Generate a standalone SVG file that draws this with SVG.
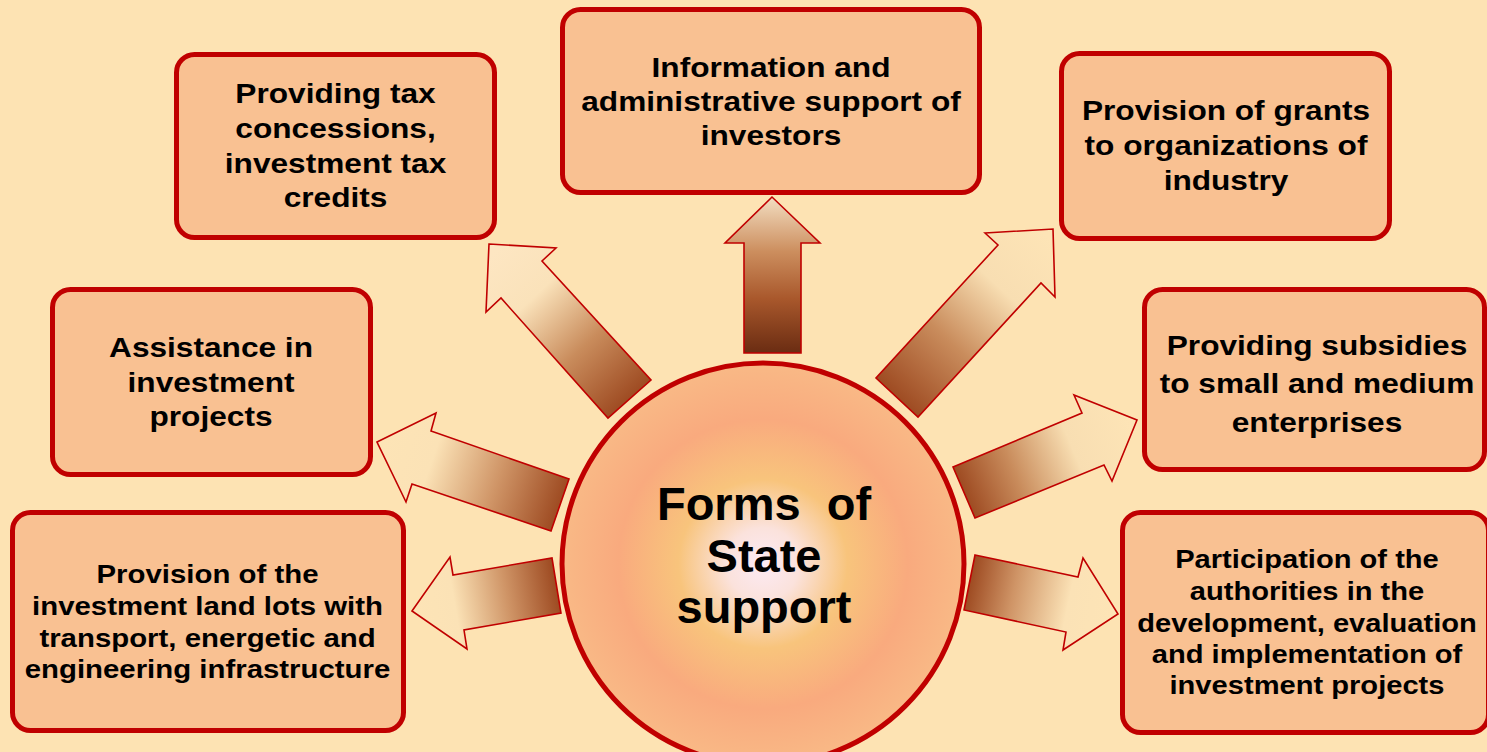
<svg xmlns="http://www.w3.org/2000/svg" width="1487" height="752" viewBox="0 0 1487 752">
<style>
.box{fill:#F9C192;stroke:#C00000;stroke-width:5}
.arr{stroke:#C00000;stroke-width:1.6;stroke-linejoin:miter}
.t{font-family:"Liberation Sans",Arial,sans-serif;font-weight:bold;font-size:28px;fill:#000;text-anchor:middle}
.ts{font-size:26px}
.ct{font-family:"Liberation Sans",Arial,sans-serif;font-weight:bold;font-size:47px;fill:#000;text-anchor:middle}
</style>
<defs>
<radialGradient id="cg" cx="763" cy="564" r="201" gradientUnits="userSpaceOnUse">
<stop offset="0" stop-color="#FCEAF4"/>
<stop offset="0.18" stop-color="#FBE2DC"/>
<stop offset="0.42" stop-color="#F8C47C"/>
<stop offset="0.72" stop-color="#F9AA7E"/>
<stop offset="1" stop-color="#F9B986"/>
</radialGradient>
<linearGradient id="gup" x1="0" y1="197" x2="0" y2="353" gradientUnits="userSpaceOnUse">
<stop offset="0" stop-color="#F3DEC2"/>
<stop offset="0.35" stop-color="#CC8E5E"/>
<stop offset="0.65" stop-color="#A9582C"/>
<stop offset="1" stop-color="#6A2C12"/>
</linearGradient>
<linearGradient id="gul" x1="630" y1="399" x2="493" y2="253" gradientUnits="userSpaceOnUse">
<stop offset="0" stop-color="#9E4B22"/>
<stop offset="0.35" stop-color="#C98C5C"/>
<stop offset="0.7" stop-color="#FAE2BA"/>
<stop offset="1" stop-color="#FDE6C2"/>
</linearGradient>
<linearGradient id="gur" x1="897" y1="398" x2="1048" y2="236" gradientUnits="userSpaceOnUse">
<stop offset="0" stop-color="#9E4B22"/>
<stop offset="0.35" stop-color="#C98C5C"/>
<stop offset="0.68" stop-color="#F8DEB2"/>
<stop offset="1" stop-color="#FDE4B6"/>
</linearGradient>
<linearGradient id="gr1" x1="964" y1="492" x2="1130" y2="423" gradientUnits="userSpaceOnUse">
<stop offset="0" stop-color="#9E4B22"/>
<stop offset="0.3" stop-color="#C98C5C"/>
<stop offset="0.65" stop-color="#F8DEB2"/>
<stop offset="1" stop-color="#FDE4B6"/>
</linearGradient>
<linearGradient id="gr2" x1="970" y1="582" x2="1115" y2="612" gradientUnits="userSpaceOnUse">
<stop offset="0" stop-color="#9E4B22"/>
<stop offset="0.3" stop-color="#CF9466"/>
<stop offset="0.68" stop-color="#FBE2B6"/>
<stop offset="1" stop-color="#FDE4B6"/>
</linearGradient>
<linearGradient id="gl1" x1="560" y1="505" x2="382" y2="444" gradientUnits="userSpaceOnUse">
<stop offset="0" stop-color="#9E4B22"/>
<stop offset="0.35" stop-color="#CF9466"/>
<stop offset="0.72" stop-color="#FBE2B6"/>
<stop offset="1" stop-color="#FDE4B6"/>
</linearGradient>
<linearGradient id="gl2" x1="556" y1="585" x2="415" y2="610" gradientUnits="userSpaceOnUse">
<stop offset="0" stop-color="#9E4B22"/>
<stop offset="0.35" stop-color="#CF9466"/>
<stop offset="0.72" stop-color="#FBE2B6"/>
<stop offset="1" stop-color="#FDE4B6"/>
</linearGradient>
</defs>
<rect x="0" y="0" width="1487" height="752" fill="#FDE3B3"/>

<g id="connectors">
<polygon class="arr" fill="url(#gup)" points="744,353 744,243 725,243 772,197 820,243 801,243 801,353"/>
<polygon class="arr" fill="url(#gul)" points="489,244 556,248 542,261 651,380 608,418 501,298 486,312"/>
<polygon class="arr" fill="url(#gur)" points="985,233 1053,229 1055,297 1041,283 918,417 876,378 998,245"/>
<polygon class="arr" fill="url(#gr1)" points="953,467 1082,413 1074,395 1137,420 1112,481 1104,465 975,518"/>
<polygon class="arr" fill="url(#gr2)" points="975,555 1078,577 1083,558 1118,614 1063,650 1066,632 964,610"/>
<polygon class="arr" fill="url(#gl1)" points="377,442 436,413 431,431 569,479 551,531 412,484 406,502"/>
<polygon class="arr" fill="url(#gl2)" points="412,611 450,557 453,575 552,558 561,613 464,630 467,649"/>
</g>

<g id="node-tax">
<rect class="box" x="176.5" y="54.5" width="318" height="183" rx="18"/>
<text class="t" transform="translate(335.5 0) scale(1.13 1)"><tspan x="0" y="103">Providing tax</tspan><tspan x="0" y="138">concessions,</tspan><tspan x="0" y="173">investment tax</tspan><tspan x="0" y="207">credits</tspan></text>
</g>
<g id="node-info">
<rect class="box" x="562.5" y="9.5" width="417" height="183" rx="18"/>
<text class="t" transform="translate(771 0) scale(1.13 1)"><tspan x="0" y="77">Information and</tspan><tspan x="0" y="111">administrative support of</tspan><tspan x="0" y="145">investors</tspan></text>
</g>
<g id="node-grants">
<rect class="box" x="1061.5" y="53.5" width="328" height="185" rx="18"/>
<text class="t" transform="translate(1226 0) scale(1.13 1)"><tspan x="0" y="120">Provision of grants</tspan><tspan x="0" y="155">to organizations of</tspan><tspan x="0" y="190">industry</tspan></text>
</g>
<g id="node-assist">
<rect class="box" x="52.5" y="289.5" width="318" height="185" rx="18"/>
<text class="t" transform="translate(211 0) scale(1.13 1)"><tspan x="0" y="357">Assistance in</tspan><tspan x="0" y="392">investment</tspan><tspan x="0" y="426">projects</tspan></text>
</g>
<g id="node-subsidies">
<rect class="box" x="1144.5" y="289.5" width="340" height="180" rx="18"/>
<text class="t" transform="translate(1317 0) scale(1.13 1)"><tspan x="0" y="355">Providing subsidies</tspan><tspan x="0" y="393">to small and medium</tspan><tspan x="0" y="432">enterprises</tspan></text>
</g>
<g id="node-land">
<rect class="box" x="12.5" y="512.5" width="391" height="218" rx="18"/>
<text class="t ts" transform="translate(207.5 0) scale(1.13 1)"><tspan x="0" y="583">Provision of the</tspan><tspan x="0" y="615">investment land lots with</tspan><tspan x="0" y="647">transport, energetic and</tspan><tspan x="0" y="678">engineering infrastructure</tspan></text>
</g>
<g id="node-participation">
<rect class="box" x="1122.5" y="512.5" width="366" height="220" rx="18"/>
<text class="t ts" transform="translate(1307 0) scale(1.12 1)"><tspan x="0" y="568">Participation of the</tspan><tspan x="0" y="600">authorities in the</tspan><tspan x="0" y="632">development, evaluation</tspan><tspan x="0" y="663">and implementation of</tspan><tspan x="0" y="694">investment projects</tspan></text>
</g>

<g id="node-center">
<circle cx="763" cy="564" r="201" fill="url(#cg)" stroke="#C00000" stroke-width="5"/>
<text class="ct"><tspan x="764" y="520">Forms&#160; of</tspan><tspan x="764" y="572">State</tspan><tspan x="764" y="623">support</tspan></text>
</g>
</svg>
